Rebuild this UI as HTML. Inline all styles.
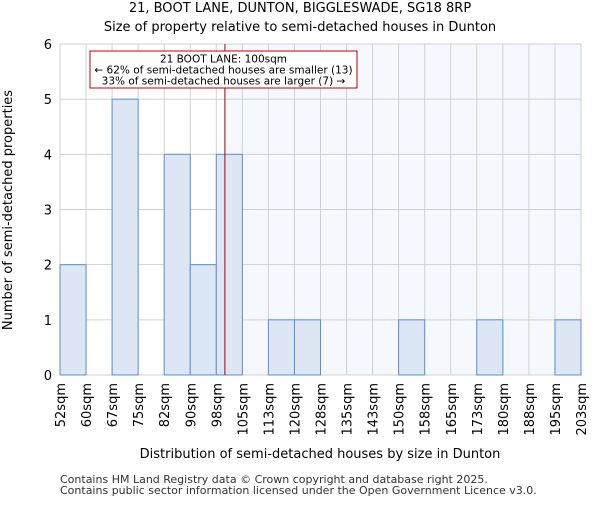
<!DOCTYPE html>
<html><head><meta charset="utf-8"><style>body{margin:0;background:#fff}svg{font-family:"DejaVu Sans","Liberation Sans",sans-serif}</style></head>
<body>
<svg id="chart" width="600" height="500" xmlns="http://www.w3.org/2000/svg">
<text x="300" y="12" text-anchor="middle" font-size="13">21, BOOT LANE, DUNTON, BIGGLESWADE, SG18 8RP</text>
<text x="300" y="31" text-anchor="middle" font-size="13">Size of property relative to semi-detached houses in Dunton</text>
<g id="plot"></g>
<text x="320" y="458" text-anchor="middle" font-size="13">Distribution of semi-detached houses by size in Dunton</text>
<text transform="translate(12,210) rotate(-90)" text-anchor="middle" font-size="13">Number of semi-detached properties</text>
<text x="60" y="483" font-size="11" fill="#333">Contains HM Land Registry data © Crown copyright and database right 2025.</text>
<text x="60" y="494" font-size="11" fill="#333">Contains public sector information licensed under the Open Government Licence v3.0.</text>
</svg>
<script>
const binLabels=["52sqm","60sqm","67sqm","75sqm","82sqm","90sqm","98sqm","105sqm","113sqm","120sqm","128sqm","135sqm","143sqm","150sqm","158sqm","165sqm","173sqm","180sqm","188sqm","195sqm","203sqm"];
const counts=[2,0,5,0,4,2,4,0,1,1,0,0,0,1,0,0,1,0,0,1];
const yTicks=[0,1,2,3,4,5,6];
const propertyBin=6.33;
const NS="http://www.w3.org/2000/svg";
const L=60,R=581,T=44,B=375,yMax=6;
const bw=(R-L)/counts.length;
const x=i=>L+i*bw;
const y=v=>B-(v/yMax)*(B-T);
const g=document.getElementById('plot');
function mk(t,a,p){const e=document.createElementNS(NS,t);for(const k in a)e.setAttribute(k,a[k]);(p||g).appendChild(e);return e;}
let e;
e=mk('rect',{x:x(propertyBin),y:T,width:R-x(propertyBin),height:B-T,fill:'#f5f8fe'});


for(let i=0;i<=counts.length;i++){e=mk('line',{x1:x(i),x2:x(i),y1:T,y2:B,stroke:'#d0d0d0'});

}
yTicks.forEach(v=>{e=mk('line',{x1:L,x2:R,y1:y(v),y2:y(v),stroke:'#d0d0d0'});


e=mk('text',{x:L-8,y:y(v)+5,'text-anchor':'end','font-size':13});e.textContent=v;

});
counts.forEach((c,i)=>{if(!c)return;e=mk('rect',{x:x(i),y:y(c),width:bw,height:B-y(c),fill:'#dce6f5',stroke:'#5b8fd6','stroke-width':1});

});
binLabels.forEach((l,i)=>{e=mk('text',{transform:`translate(${x(i)+5},${B+8}) rotate(-90)`,'text-anchor':'end','font-size':13});e.textContent=l;

});
e=mk('line',{x1:x(propertyBin),x2:x(propertyBin),y1:T,y2:B,stroke:'#b00000','stroke-width':1});


e=mk('rect',{x:90,y:51,width:267,height:37,fill:'#fff',stroke:'#c00000'});


["21 BOOT LANE: 100sqm","← 62% of semi-detached houses are smaller (13)","33% of semi-detached houses are larger (7) →"].forEach((t,k)=>{e=mk('text',{x:223.5,y:62.5+k*11,'text-anchor':'middle','font-size':10.5});e.textContent=t;

});
</script>
</body></html>
